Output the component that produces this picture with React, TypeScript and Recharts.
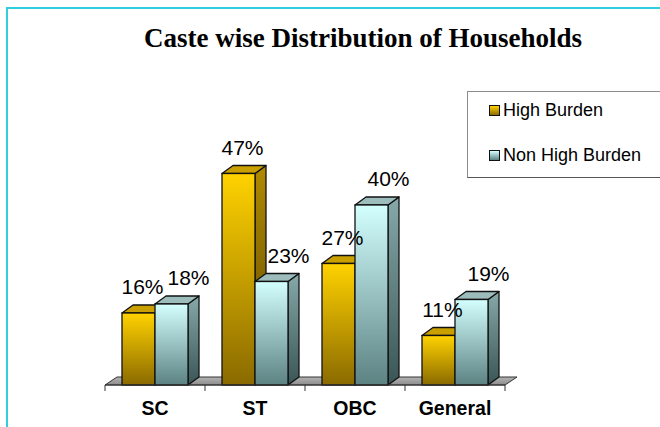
import React from 'react';
import { BarChart, Bar, XAxis, YAxis, Legend, LabelList, usePlotArea } from 'recharts';

const categories = ['SC', 'ST', 'OBC', 'General'];
const highBurden = [16, 47, 27, 11];
const nonHighBurden = [18, 23, 40, 19];
const seriesNames = ['High Burden', 'Non High Burden'];
const valueTicks = [0, 10, 20, 30, 40, 50];
const chartTitle = 'Caste wise Distribution of Households';

const data = categories.map((c, i) => ({ category: c, high: highBurden[i], non: nonHighBurden[i] }));

const DX = 11;
const DY = 8;
const SANS = '"Liberation Sans", Arial, sans-serif';

const palettes: Record<string, { front: string; side: string; top: string }> = {
  high: { front: 'url(#hbFront)', side: 'url(#hbSide)', top: '#C9A000' },
  non: { front: 'url(#nhFront)', side: 'url(#nhSide)', top: '#9DBDBD' },
};

function Bar3D(props: any) {
  const { x, y, width, height, pal } = props;
  if (!(height > 0)) return null;
  const p = palettes[pal];
  const r = x + width;
  const b = y + height;
  return (
    <g>
      <polygon
        points={`${r},${y} ${r + DX},${y - DY} ${r + DX},${b - DY} ${r},${b}`}
        fill={p.side}
        stroke="#111"
        strokeWidth={1.3}
        strokeLinejoin="round"
      />
      <polygon
        points={`${x},${y} ${x + DX},${y - DY} ${r + DX},${y - DY} ${r},${y}`}
        fill={p.top}
        stroke="#111"
        strokeWidth={1.3}
        strokeLinejoin="round"
      />
      <rect x={x} y={y} width={width} height={height} fill={p.front} stroke="#111" strokeWidth={1.3} />
    </g>
  );
}

function Floor() {
  const pa = usePlotArea();
  if (!pa) return null;
  const y0 = pa.y + pa.height;
  const x0 = pa.x;
  const x1 = pa.x + pa.width;
  return (
    <polygon
      points={`${x0},${y0} ${x1},${y0} ${x1 + 12},${y0 - 8} ${x0 + 12},${y0 - 8}`}
      fill="url(#floorGrad)"
      stroke="#333"
      strokeWidth={1}
    />
  );
}

function CategoryTick(props: any) {
  const { x, payload, index, visibleTicksCount } = props;
  const pa = usePlotArea();
  const axisY = pa ? pa.y + pa.height : 385;
  const half = payload && payload.offset ? payload.offset : 50;
  const last = index === (visibleTicksCount ?? categories.length) - 1;
  return (
    <g>
      <line x1={x - half} y1={axisY} x2={x - half} y2={axisY + 6} stroke="#333" strokeWidth={1} />
      {last && <line x1={x + half} y1={axisY} x2={x + half} y2={axisY + 6} stroke="#333" strokeWidth={1} />}
      <text x={x} y={axisY + 30} textAnchor="middle" fontFamily={SANS} fontWeight="bold" fontSize={19.5} fill="#000">
        {payload.value}
      </text>
    </g>
  );
}

function makeLabel(dx: number) {
  return (props: any) => {
    const { x, y, width, value } = props;
    return (
      <text x={x + width / 2 + dx} y={y - 19} textAnchor="middle" fontFamily={SANS} fontSize={21} fill="#000">
        {value}%
      </text>
    );
  };
}

function LegendBox(props: any) {
  const items = [
    { name: seriesNames[0], grad: 'linear-gradient(#FFD200, #8C6C00)' },
    { name: seriesNames[1], grad: 'linear-gradient(#D4FFFF, #5C8282)' },
  ];
  return (
    <div
      style={{
        position: 'relative',
        width: 200,
        height: 87,
        boxSizing: 'border-box',
        borderTop: '1px solid #8C8C8C',
        borderLeft: '1px solid #8C8C8C',
        borderBottom: '1px solid #555',
        background: '#fff',
        fontFamily: SANS,
      }}
    >
      {items.map((it, i) => (
        <div key={it.name} style={{ position: 'absolute', left: 21, top: 7 + i * 45, height: 22, display: 'flex', alignItems: 'center' }}>
          <div
            style={{
              width: 9,
              height: 9,
              border: '1.5px solid #111',
              background: it.grad,
              marginRight: 3,
            }}
          />
          <span style={{ fontSize: 18, color: '#000', whiteSpace: 'nowrap' }}>{it.name}</span>
        </div>
      ))}
    </div>
  );
}

export default function App() {
  return (
    <div style={{ position: 'absolute', left: 0, top: 0, width: 660, height: 427, background: '#fff', overflow: 'hidden' }}>
      <div
        style={{
          position: 'absolute',
          left: 6,
          top: 7,
          width: 700,
          height: 500,
          borderLeft: '2px solid #2FCFE0',
          borderTop: '2px solid #2FCFE0',
        }}
      />
      <svg style={{ position: 'absolute', left: 0, top: 0 }} width={660} height={70}>
        <text
          x={363}
          y={47}
          textAnchor="middle"
          fontFamily='"Liberation Serif", "Times New Roman", serif'
          fontWeight="bold"
          fontSize={27}
          fill="#000"
        >
          {chartTitle}
        </text>
      </svg>
      <div style={{ position: 'absolute', left: 0, top: 0 }}>
        <BarChart
          width={660}
          height={427}
          data={data}
          margin={{ top: 160, right: 155, bottom: 0, left: 105 }}
          barCategoryGap="17%"
          barGap={0}
        >
          <defs>
            <linearGradient id="hbFront" x1="0" y1="0" x2="0" y2="1">
              <stop offset="0%" stopColor="#FFD200" />
              <stop offset="100%" stopColor="#8A6A00" />
            </linearGradient>
            <linearGradient id="hbSide" x1="0" y1="0" x2="0" y2="1">
              <stop offset="0%" stopColor="#B08A00" />
              <stop offset="100%" stopColor="#5E4800" />
            </linearGradient>
            <linearGradient id="nhFront" x1="0" y1="0" x2="0" y2="1">
              <stop offset="0%" stopColor="#D4FFFF" />
              <stop offset="100%" stopColor="#5C8282" />
            </linearGradient>
            <linearGradient id="nhSide" x1="0" y1="0" x2="0" y2="1">
              <stop offset="0%" stopColor="#86A9A9" />
              <stop offset="100%" stopColor="#3A5555" />
            </linearGradient>
            <linearGradient id="floorGrad" x1="0" y1="0" x2="0" y2="1">
              <stop offset="0%" stopColor="#B4B4B4" />
              <stop offset="100%" stopColor="#8C8C8C" />
            </linearGradient>
          </defs>
          <Floor />
          <XAxis
            dataKey="category"
            height={42}
            axisLine={{ stroke: '#333', strokeWidth: 1 }}
            tickLine={false}
            tick={<CategoryTick />}
            interval={0}
          />
          <YAxis hide domain={[0, 50]} ticks={valueTicks} />
          <Legend
            layout="vertical"
            align="center"
            verticalAlign="middle"
            wrapperStyle={{ left: 467, top: 91, width: 200, height: 87 }}
            content={<LegendBox />}
          />
          <Bar
            dataKey="high"
            name={seriesNames[0]}
            fill="#FFCC00"
            isAnimationActive={false}
            shape={(p: any) => <Bar3D {...p} pal="high" />}
          >
            <LabelList dataKey="high" content={makeLabel(4)} />
          </Bar>
          <Bar
            dataKey="non"
            name={seriesNames[1]}
            fill="#CCFFFF"
            isAnimationActive={false}
            shape={(p: any) => <Bar3D {...p} pal="non" />}
          >
            <LabelList dataKey="non" content={makeLabel(17)} />
          </Bar>
        </BarChart>
      </div>
    </div>
  );
}
